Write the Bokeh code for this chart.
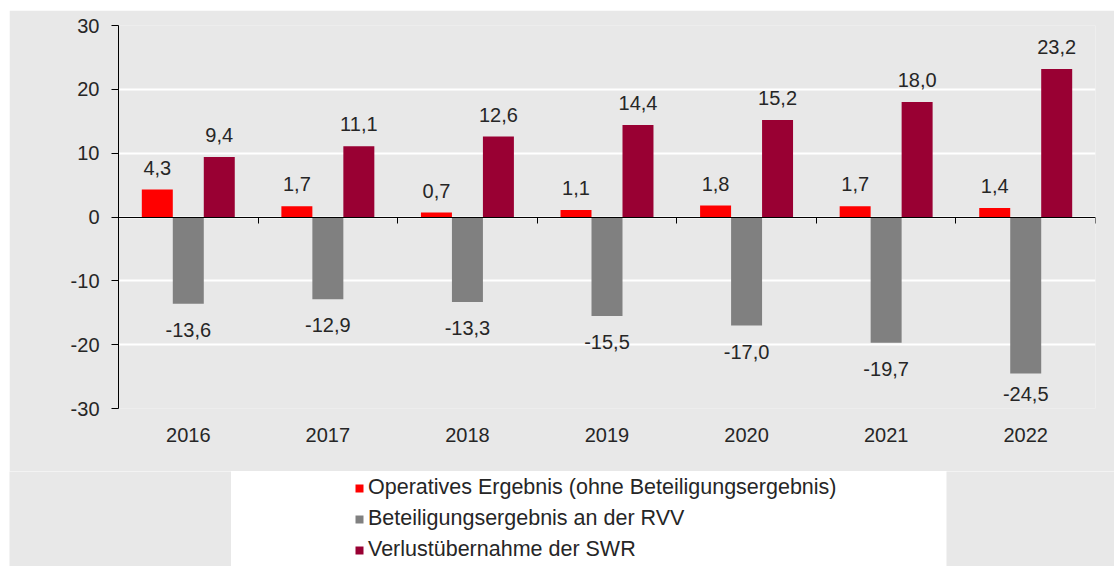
import numpy as np
from bokeh.plotting import figure
from bokeh.layouts import column, row
from bokeh.models import (ColumnDataSource, Range1d, FixedTicker, LinearAxis,
                          Legend, LegendItem, Spacer)
from bokeh.core.properties import value
from bokeh.embed import file_html
from bokeh.resources import INLINE

# ---- data ----
years = ["2016", "2017", "2018", "2019", "2020", "2021", "2022"]
operatives = [4.3, 1.7, 0.7, 1.1, 1.8, 1.7, 1.4]
beteiligung = [-13.6, -12.9, -13.3, -15.5, -17.0, -19.7, -24.5]
verlust = [9.4, 11.1, 12.6, 14.4, 15.2, 18.0, 23.2]
series_names = ["Operatives Ergebnis (ohne Beteiligungsergebnis)",
                "Beteiligungsergebnis an der RVV",
                "Verlustübernahme der SWR"]
y_ticks = [-30, -20, -10, 0, 10, 20, 30]

colors = ["#FF0000", "#808080", "#990033"]
GRAY = "#E8E8E8"
FONT = "Liberation Sans"
TXT = "#262626"

n = len(years)
centers = np.arange(n) + 0.5
bar_w = 0.222
offsets = [-0.222, 0.0, 0.222]

CH_W, CH_H = 1105, 461
MB_L, MB_R, MB_T, MB_B = 109, 19, 15, 63
frame_h = CH_H - MB_T - MB_B
px_per_unit = frame_h / (y_ticks[-1] - y_ticks[0])

p = figure(width=CH_W, height=CH_H, output_backend="svg", toolbar_location=None,
           x_range=Range1d(0, n), y_range=Range1d(y_ticks[0], y_ticks[-1]),
           min_border_left=MB_L, min_border_right=MB_R, min_border_top=MB_T,
           min_border_bottom=MB_B)
p.background_fill_color = GRAY
p.border_fill_color = GRAY
p.outline_line_color = None

# grid
p.xgrid.grid_line_color = None
p.ygrid.ticker = FixedTicker(ticks=y_ticks)
p.ygrid.grid_line_color = "white"
p.ygrid.grid_line_width = 2

# y axis
ya = p.yaxis[0]
ya.ticker = FixedTicker(ticks=y_ticks)
ya.major_label_overrides = {t: str(t) for t in y_ticks}
ya.axis_line_color = "black"
ya.major_tick_line_color = "black"
ya.major_tick_in = 0
ya.major_tick_out = 7
ya.minor_tick_line_color = None
ya.major_label_standoff = 12
ya.major_label_text_font = FONT
ya.major_label_text_font_size = "20px"
ya.major_label_text_color = TXT

# x axis (labels only, below frame)
xa = p.xaxis[0]
xa.ticker = FixedTicker(ticks=list(centers))
xa.major_label_overrides = {float(c): y for c, y in zip(centers, years)}
xa.axis_line_color = None
xa.major_tick_line_color = None
xa.minor_tick_line_color = None
xa.major_label_standoff = 13
xa.major_label_text_font = FONT
xa.major_label_text_font_size = "20px"
xa.major_label_text_color = TXT

# zero line axis with ticks between categories
za = LinearAxis(fixed_location=0, ticker=FixedTicker(ticks=list(range(n + 1))))
za.axis_line_color = "black"
za.major_tick_line_color = "black"
za.major_tick_in = 0
za.major_tick_out = 6
za.minor_tick_line_color = None
za.major_label_text_color = None
za.major_label_text_font_size = "1px"
p.add_layout(za, "below")


def fmt(v):
    return f"{v:.1f}".replace(".", ",")


bottom_room = abs(y_ticks[0]) * px_per_unit - 15  # keep labels inside the frame

all_series = [operatives, beteiligung, verlust]
for vals, off, col in zip(all_series, offsets, colors):
    src = ColumnDataSource(dict(x=centers + off, top=vals))
    p.vbar(x="x", top="top", bottom=0, width=bar_w, source=src,
           fill_color=col, line_color=None)

    xs = centers + off
    pos_vals = [v for v in vals if v >= 0]
    pos = ColumnDataSource(dict(x=[x for x, v in zip(xs, vals) if v >= 0],
                                y=pos_vals,
                                t=[fmt(v) for v in pos_vals]))
    neg_vals = [v for v in vals if v < 0]
    neg = ColumnDataSource(dict(x=[x for x, v in zip(xs, vals) if v < 0],
                                y=neg_vals,
                                t=[fmt(v) for v in neg_vals],
                                off=[min(26.0, bottom_room - abs(v) * px_per_unit)
                                     for v in neg_vals]))
    p.text(x="x", y="y", text="t", source=pos, text_align="center",
           text_baseline="alphabetic", y_offset=-22, text_font=value(FONT),
           text_font_size="20px", text_color=TXT)
    p.text(x="x", y="y", text="t", source=neg, text_align="center",
           text_baseline="alphabetic", y_offset="off", text_font=value(FONT),
           text_font_size="20px", text_color=TXT)

# ---- legend strip ----
LEG_H = 95
lf = figure(width=715, height=LEG_H, output_backend="svg", toolbar_location=None,
            x_range=Range1d(0, 1), y_range=Range1d(0, 1),
            min_border_left=0, min_border_right=0, min_border_top=0,
            min_border_bottom=0)
lf.background_fill_color = "white"
lf.border_fill_color = "white"
lf.outline_line_color = None
lf.axis.visible = False
lf.grid.grid_line_color = None
legend_renderers = []
for vals, col in zip(all_series, colors):
    r = lf.vbar(x=centers, top=vals, width=0.1, fill_color=col, line_color=None,
                visible=False)
    legend_renderers.append(r)

legend = Legend(items=[LegendItem(label=nm, renderers=[r])
                       for nm, r in zip(series_names, legend_renderers)],
                location=(123, 4), padding=0, spacing=6, margin=0,
                glyph_width=10, glyph_height=10, label_height=21,
                label_standoff=4, background_fill_alpha=0,
                border_line_alpha=0, label_text_font=FONT,
                inactive_fill_alpha=0,
                label_text_font_size="21.5px", label_text_color=TXT)
lf.add_layout(legend, "center")


def gray_block(w):
    g = figure(width=w, height=LEG_H, output_backend="svg", toolbar_location=None,
               x_range=Range1d(0, 1), y_range=Range1d(0, 1),
               min_border_left=0, min_border_right=0, min_border_top=0,
               min_border_bottom=0)
    g.background_fill_color = GRAY
    g.border_fill_color = GRAY
    g.outline_line_color = None
    g.axis.visible = False
    g.grid.grid_line_color = None
    return g


layout = column(Spacer(height=10),
                row(Spacer(width=9),
                    column(p, row(gray_block(222), lf, gray_block(168)))))

open("out.html", "w").write(file_html(layout, INLINE))
